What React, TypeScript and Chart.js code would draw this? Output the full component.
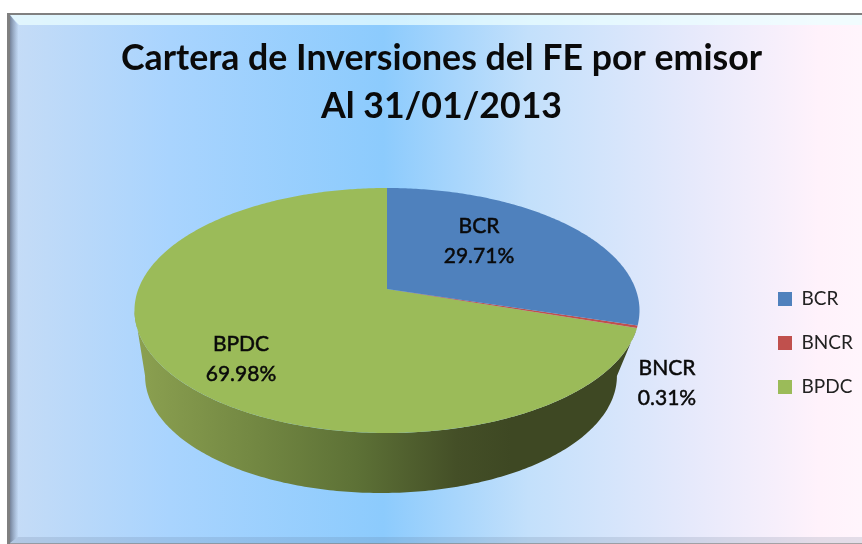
import React, { useEffect, useRef } from "react";
import { Chart, registerables } from "chart.js";

Chart.register(...registerables);

const categories = ["BCR", "BNCR", "BPDC"];
const shares = [29.71, 0.31, 69.98];
const sliceColors = ["#4f81bd", "#c0504d", "#9bbb59"];
const titleLines = ["Cartera de Inversiones del FE por emisor", "Al 31/01/2013"];

const FONT = "Lato";
const TILT = 0.4775;
const PERSPECTIVE = 0.1755;
const labelSpots = [
  { x: 479, y: 241 },
  { x: 667, y: 383 },
  { x: 241, y: 359 },
];

function project(arc: any, angle: number, r = 1) {
  const u = Math.cos(angle) * r;
  const v = Math.sin(angle) * r;
  const d = 1 - PERSPECTIVE * v;
  return { x: arc.x + (arc.outerRadius * u) / d, y: arc.y + (arc.outerRadius * TILT * v) / d };
}

const piePlugin = {
  id: "pie3d",
  beforeDraw(chart: any) {
    const c = chart.ctx;
    const W = chart.width;
    const H = chart.height;
    const L = 7, T = 13;
    c.save();
    c.fillStyle = "#ffffff";
    c.fillRect(0, 0, W, H);
    const g = c.createLinearGradient(L, 0, W, 0);
    g.addColorStop(0, "#c6dcf6");
    g.addColorStop(0.19, "#a9d4fe");
    g.addColorStop(0.44, "#8ccbfd");
    g.addColorStop(0.61, "#c3e0fb");
    g.addColorStop(0.8, "#e6e9fb");
    g.addColorStop(0.95, "#fff2fb");
    g.addColorStop(1, "#fff5fc");
    c.fillStyle = g;
    c.fillRect(L, T, W - L, H - T);
    // top bevel
    c.fillStyle = "rgba(235,255,255,0.72)";
    c.beginPath();
    c.moveTo(L + 3, T + 2);
    c.lineTo(W, T + 2);
    c.lineTo(W, T + 12);
    c.lineTo(L + 12, T + 12);
    c.closePath();
    c.fill();
    // left bevel
    const lb = c.createLinearGradient(L + 2, 0, L + 11, 0);
    lb.addColorStop(0, "rgba(90,100,120,0.85)");
    lb.addColorStop(1, "rgba(110,130,160,0.05)");
    c.fillStyle = lb;
    c.beginPath();
    c.moveTo(L + 3, T + 2);
    c.lineTo(L + 11, T + 12);
    c.lineTo(L + 11, H - 7);
    c.lineTo(L + 3, H - 1);
    c.closePath();
    c.fill();
    // bottom bevel
    c.fillStyle = "rgba(80,100,130,0.16)";
    c.beginPath();
    c.moveTo(L + 11, H - 7);
    c.lineTo(W, H - 7);
    c.lineTo(W, H - 1);
    c.lineTo(L + 3, H - 1);
    c.closePath();
    c.fill();
    // outer line
    c.fillStyle = "#808080";
    c.fillRect(L, T, W - L, 2);
    c.fillRect(L, T, 3, H - T);
    c.fillStyle = "rgba(128,128,128,0.7)";
    c.fillRect(L, H - 1, W - L, 1);
    c.restore();
  },
  afterLayout(chart: any) {
    chart.chartArea = { left: 138.4, right: 635.6, top: 40.4, bottom: 537.6, width: 497.2, height: 497.2 };
    const t = chart.titleBlock;
    t.left += 10.5;
    t.right += 10.5;
    const l = chart.legend;
    l.left = 753;
    l.right = 862;
    l.top = 242;
    l.bottom = 444;
  },
  beforeDatasetDraw() {
    return false;
  },
  beforeDatasetsDraw(chart: any) {
    const c = chart.ctx;
    const arcs = chart.getDatasetMeta(0).data;
    const front = arcs[2];
    c.save();
    // side wall
    const bx = front.x - 6, by = front.y + 87;
    const brx = front.outerRadius * 0.949, bry = front.outerRadius * 0.4706;
    const wall = c.createLinearGradient(front.x - front.outerRadius, 0, front.x + front.outerRadius, 0);
    wall.addColorStop(0, "#8ba050");
    wall.addColorStop(0.24, "#728742");
    wall.addColorStop(0.44, "#5d7136");
    wall.addColorStop(0.64, "#444f27");
    wall.addColorStop(0.75, "#3e4823");
    wall.addColorStop(1, "#3e4823");
    c.fillStyle = wall;
    c.beginPath();
    const leftAngle = Math.PI - Math.asin(PERSPECTIVE);
    const n = 200;
    for (let i = 0; i <= n; i++) {
      const p = project(front, front.startAngle + ((leftAngle - front.startAngle) * i) / n);
      if (i === 0) c.moveTo(p.x, p.y);
      else c.lineTo(p.x, p.y);
    }
    for (let i = 0; i <= n; i++) {
      const t = Math.PI - (Math.PI * i) / n;
      c.lineTo(bx + brx * Math.cos(t), by + bry * Math.sin(t));
    }
    c.closePath();
    c.fill();
    // top faces
    [2, 1, 0].forEach((idx) => {
      const a = arcs[idx];
      c.fillStyle = sliceColors[idx];
      c.beginPath();
      c.moveTo(a.x, a.y);
      const steps = Math.max(4, Math.ceil((a.endAngle - a.startAngle) * 80));
      for (let i = 0; i <= steps; i++) {
        const p = project(a, a.startAngle + ((a.endAngle - a.startAngle) * i) / steps);
        c.lineTo(p.x, p.y);
      }
      c.closePath();
      c.fill();
    });
    c.restore();
  },
  afterDatasetsDraw(chart: any) {
    const c = chart.ctx;
    c.save();
    c.fillStyle = "#0a0a0a";
    c.textAlign = "center";
    c.textBaseline = "middle";
    c.font = `21px ${FONT}`;
    c.strokeStyle = "#0a0a0a";
    c.lineWidth = 0.5;
    categories.forEach((name, i) => {
      const s = labelSpots[i];
      const pct = `${shares[i].toFixed(2)}%`;
      c.fillText(name, s.x, s.y - 15);
      c.strokeText(name, s.x, s.y - 15);
      c.fillText(pct, s.x, s.y + 15);
      c.strokeText(pct, s.x, s.y + 15);
    });
    c.restore();
  },
};

export default function App() {
  const ref = useRef<HTMLCanvasElement | null>(null);
  useEffect(() => {
    const chart = new Chart(ref.current as HTMLCanvasElement, {
      type: "pie",
      data: {
        labels: categories,
        datasets: [{ data: shares, backgroundColor: sliceColors, borderWidth: 0 }],
      },
      plugins: [piePlugin as any],
      options: {
        responsive: false,
        animation: false,
        plugins: {
          tooltip: { enabled: false },
          title: {
            display: true,
            text: titleLines,
            color: "#0a0a0a",
            font: { family: FONT, size: 35.7, weight: "bold", lineHeight: 1.34 },
            padding: { top: 35, bottom: 0 },
          },
          legend: {
            position: "right",
            labels: {
              boxWidth: 14,
              boxHeight: 14,
              padding: 25,
              color: "#222222",
              font: { family: FONT, size: 19 },
            },
          },
        },
      },
    } as any);
    return () => chart.destroy();
  }, []);
  return (
    <div style={{ position: "fixed", left: 0, top: 0, width: 862, height: 544 }}>
      <canvas ref={ref} width={862} height={544} style={{ display: "block", filter: "blur(0.4px)" }} />
    </div>
  );
}
